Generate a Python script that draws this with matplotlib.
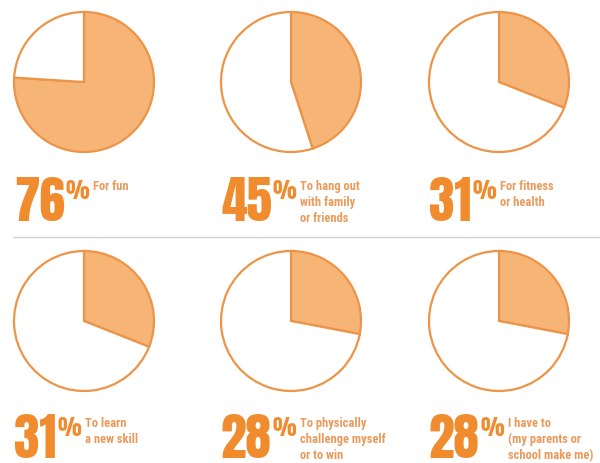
import matplotlib.pyplot as plt
from matplotlib import font_manager

# reasons kids give for playing sport, share of respondents (%)
values = [76, 45, 31, 31, 28, 28]
labels = [
    "For fun",
    "To hang out\nwith family\nor friends",
    "For fitness\nor health",
    "To learn\na new skill",
    "To physically\nchallenge myself\nor to win",
    "I have to\n(my parents or\nschool make me)",
]

FILL = "#F7B477"
EDGE = "#EC9447"
TEXT = "#F08C2E"
LABEL = "#EA9B5C"

names = {f.name for f in font_manager.fontManager.ttflist}


def pick(prefs):
    for p in prefs:
        if p in names:
            return p
    return "DejaVu Sans"


num_font = pick(["Anton", "Fjalla One", "Oswald", "Roboto Condensed",
                 "Barlow Condensed", "Liberation Sans Narrow"])
lab_font = pick(["Roboto Condensed", "Barlow Condensed", "Archivo Narrow",
                 "PT Sans Narrow", "Oswald", "Liberation Sans Narrow"])

W, H = 600, 464
fig = plt.figure(figsize=(W / 100, H / 100), dpi=100)

# pie centres (pixels) and radius
col_x = [84, 291, 499]
row_y = [83, 322]
r = 70
num_x = [14, 221, 429]
num_base = [221, 458]

for i, (v, lab) in enumerate(zip(values, labels)):
    row, col = divmod(i, 3)
    cx, cy = col_x[col], row_y[row]
    pad = r + 2
    ax = fig.add_axes([(cx - pad) / W, 1 - (cy + pad) / H, 2 * pad / W, 2 * pad / H])
    ax.pie([v, 100 - v], startangle=90, counterclock=False,
           colors=[FILL, "white"],
           wedgeprops=dict(edgecolor=EDGE, linewidth=1.6))
    ax.set_xlim(-pad / r, pad / r)
    ax.set_ylim(-pad / r, pad / r)
    ax.set_aspect("equal")

    t = fig.text(num_x[col] / W, 1 - num_base[row] / H, str(v),
                 fontsize=37, fontweight="bold", family=num_font,
                 color=TEXT, ha="left", va="baseline")
    ann = fig.add_artist(plt.Annotation("%", xy=(1, 1), xycoords=t,
                                        xytext=(0.5, -2), textcoords="offset points",
                                        fontsize=16, fontweight="bold", family=num_font,
                                        color=TEXT, ha="left", va="top"))
    fig.add_artist(plt.Annotation(lab, xy=(1, 1), xycoords=ann,
                                  xytext=(3, 0), textcoords="offset points",
                                  fontsize=9, fontweight="bold", family=lab_font,
                                  color=LABEL, ha="left", va="top",
                                  linespacing=1.3))

# separator between the two rows
fig.add_artist(plt.Line2D([13 / W, 1.0], [1 - 238 / H, 1 - 238 / H],
                          color="#D3D3D3", linewidth=1))

fig.savefig("out.png", dpi=100, facecolor="white")
